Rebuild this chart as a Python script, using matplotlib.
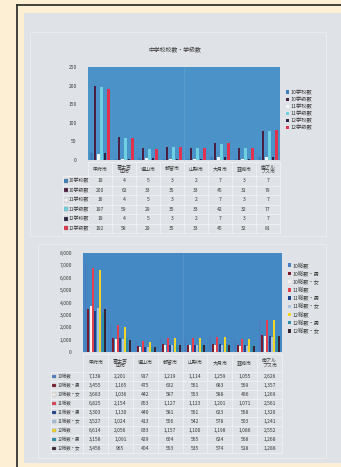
import matplotlib
matplotlib.use("Agg")
import matplotlib.pyplot as plt
from matplotlib.patches import Rectangle
import numpy as np

plt.rcParams['font.family'] = ['Noto Sans CJK JP', 'DejaVu Sans']

# ---------------- data ----------------
cities = ["甲府市", "富士吉\n田市", "塩山市", "都留市", "山梨市", "大月市", "韮崎市", "南アル\nプス市"]

title1 = "中学校校数・学級数"
series1_names = ["10学校数", "10学級数", "11学校数", "11学級数", "12学校数", "12学級数"]
s10_schools = [19, 4, 5, 3, 2, 7, 3, 7]
s10_classes = [200, 62, 33, 35, 33, 45, 31, 79]
s11_schools = [16, 4, 5, 3, 2, 7, 3, 7]
s11_classes = [197, 59, 29, 35, 33, 42, 32, 77]
s12_schools = [19, 4, 5, 3, 2, 7, 3, 7]
s12_classes = [192, 58, 29, 35, 33, 45, 32, 81]
series1 = [s10_schools, s10_classes, s11_schools, s11_classes, s12_schools, s12_classes]
colors1 = ["#3f7fb8", "#4a2040", "#f4f4f4", "#6fd0e2", "#2c2446", "#e0344e"]
yticks1 = [0, 50, 100, 150, 200, 250]

series2_names = ["10総数", "10総数・男", "10総数・女", "11総数", "11総数・男", "11総数・女",
                 "12総数", "12総数・男", "12総数・女"]
t10 = [7138, 2201, 917, 1219, 1114, 1259, 1055, 2626]
t10_m = [3455, 1165, 475, 632, 561, 683, 569, 1357]
t10_f = [3683, 1036, 442, 587, 553, 588, 486, 1269]
t11 = [6825, 2154, 853, 1127, 1123, 1201, 1071, 2561]
t11_m = [3303, 1130, 440, 581, 561, 623, 568, 1320]
t11_f = [3527, 1024, 413, 556, 542, 578, 503, 1241]
t12 = [6614, 2056, 833, 1157, 1100, 1198, 1086, 2552]
t12_m = [3158, 1091, 429, 604, 565, 624, 568, 1268]
t12_f = [3456, 965, 404, 553, 535, 574, 518, 1288]
series2 = [t10, t10_m, t10_f, t11, t11_m, t11_f, t12, t12_m, t12_f]
colors2 = ["#4a7fc0", "#7a1c2c", "#f6f2ea", "#e2404e", "#1e3f8a", "#a8c4dc",
           "#f0d428", "#2a8ea8", "#3a2434"]
yticks2 = [0, 1000, 2000, 3000, 4000, 5000, 6000, 7000, 8000]

# ---------------- figure ----------------
W, H = 341, 467
fig = plt.figure(figsize=(W / 100, H / 100), dpi=100)
fig.patch.set_facecolor("#fdefd4")

def rect(x0, y0, x1, y1):
    return [x0 / W, 1 - y1 / H, (x1 - x0) / W, (y1 - y0) / H]

# frame and paper
bg = fig.add_axes([0, 0, 1, 1])
bg.set_xlim(0, W); bg.set_ylim(H, 0); bg.axis("off")
bg.add_patch(Rectangle((24, 13), W - 24, 450, facecolor="#dfe2e6", edgecolor="none"))
bg.plot([17, W], [5, 5], color="#333333", lw=1.3)
bg.plot([17, 17], [5, H], color="#333333", lw=1.3)
bg.add_patch(Rectangle((30, 32), 296, 204, facecolor="none", edgecolor="#e9ebee", lw=0.8))
bg.add_patch(Rectangle((38, 244), 288, 214, facecolor="none", edgecolor="#e9ebee", lw=0.8))

txt = "#3a3a3a"
fs_tick = 3.6
fs_tab = 3.6

def draw_chart(ax_rect, series, names, colors, yticks, ymax, fmt, bg_color, group_w):
    ax = fig.add_axes(ax_rect)
    ax.set_facecolor(bg_color)
    n = len(series)
    x = np.arange(len(cities))
    bw = group_w / n
    for i, (vals, c, nm) in enumerate(zip(series, colors, names)):
        ax.bar(x - group_w / 2 + bw * (i + 0.5), vals, width=bw * 0.85, color=c,
               label=nm, linewidth=0)
    ax.set_xlim(-0.5, len(cities) - 0.5)
    ax.set_ylim(0, ymax)
    ax.set_yticks(yticks)
    ax.set_yticklabels([fmt(v) for v in yticks], fontsize=fs_tick, color=txt)
    ax.set_xticks([])
    ax.tick_params(axis="y", length=0, pad=8)
    for s in ax.spines.values():
        s.set_visible(False)
    ax.axvline(3.5, color="#7fb0d8", lw=0.4, alpha=0.5)
    return ax

def draw_table(tab_rect, series, names, colors, fmt, header_h, label_x, label_fs):
    ax = fig.add_axes(tab_rect)
    n = len(series)
    total = header_h + n
    ax.set_xlim(-0.5, len(cities) - 0.5)
    ax.set_ylim(total, 0)
    ax.axis("off")
    grid = "#f3f4f6"
    for r in range(n + 1):
        y = header_h + r
        ax.plot([label_x, len(cities) - 0.5], [y, y], color=grid, lw=0.5, clip_on=False)
    ax.plot([-0.5, len(cities) - 0.5], [0, 0], color=grid, lw=0.5, clip_on=False)
    for c in range(len(cities) + 1):
        ax.plot([c - 0.5, c - 0.5], [0, total], color=grid, lw=0.5, clip_on=False)
    ax.plot([label_x, label_x], [header_h, total], color=grid, lw=0.5, clip_on=False)
    for j, name in enumerate(cities):
        ax.text(j, header_h / 2, name, ha="center", va="center", fontsize=fs_tab,
                color=txt, linespacing=0.95)
    for i, (vals, col, nm) in enumerate(zip(series, colors, names)):
        y = header_h + i + 0.5
        ax.add_patch(Rectangle((label_x + 0.05, y - 0.22), 0.15, 0.44, facecolor=col,
                               edgecolor="#888888", lw=0.2, clip_on=False))
        ax.text(label_x + 0.24, y, nm, ha="left", va="center", fontsize=label_fs,
                color=txt, clip_on=False)
        for j, v in enumerate(vals):
            ax.text(j, y, fmt(v), ha="center", va="center", fontsize=fs_tab, color=txt)
    return ax

# ---------------- chart 1 ----------------
fig.text(175 / W, 1 - 50 / H, title1, ha="center", va="center", fontsize=4.2, color=txt)
ax1 = draw_chart(rect(88, 67, 280, 160), series1, series1_names, colors1, yticks1, 250,
                 lambda v: f"{v}", "#4b92c9", 0.82)
leg1 = ax1.legend(loc="upper left", bbox_to_anchor=(1.02, 0.78), frameon=False,
                  fontsize=3.8, handlelength=0.6, handleheight=0.6, handletextpad=0.3,
                  labelspacing=0.35, borderaxespad=0)
for t in leg1.get_texts():
    t.set_color(txt)
draw_table(rect(88, 162, 280, 233), series1, series1_names, colors1,
           lambda v: f"{v}", 1.5, -1.55, 3.6)

# ---------------- chart 2 ----------------
ax2 = draw_chart(rect(83, 253, 282, 352), series2, series2_names, colors2, yticks2, 8000,
                 lambda v: f"{v:,}", "#4489c3", 0.86)
leg2 = ax2.legend(loc="upper left", bbox_to_anchor=(1.02, 0.93), frameon=False,
                  fontsize=3.8, handlelength=0.6, handleheight=0.6, handletextpad=0.3,
                  labelspacing=0.42, borderaxespad=0)
for t in leg2.get_texts():
    t.set_color(txt)
draw_table(rect(83, 354, 282, 453), series2, series2_names, colors2,
           lambda v: f"{v:,}", 2.0, -1.78, 3.2)

fig.savefig("out.png", dpi=100, facecolor=fig.get_facecolor())
